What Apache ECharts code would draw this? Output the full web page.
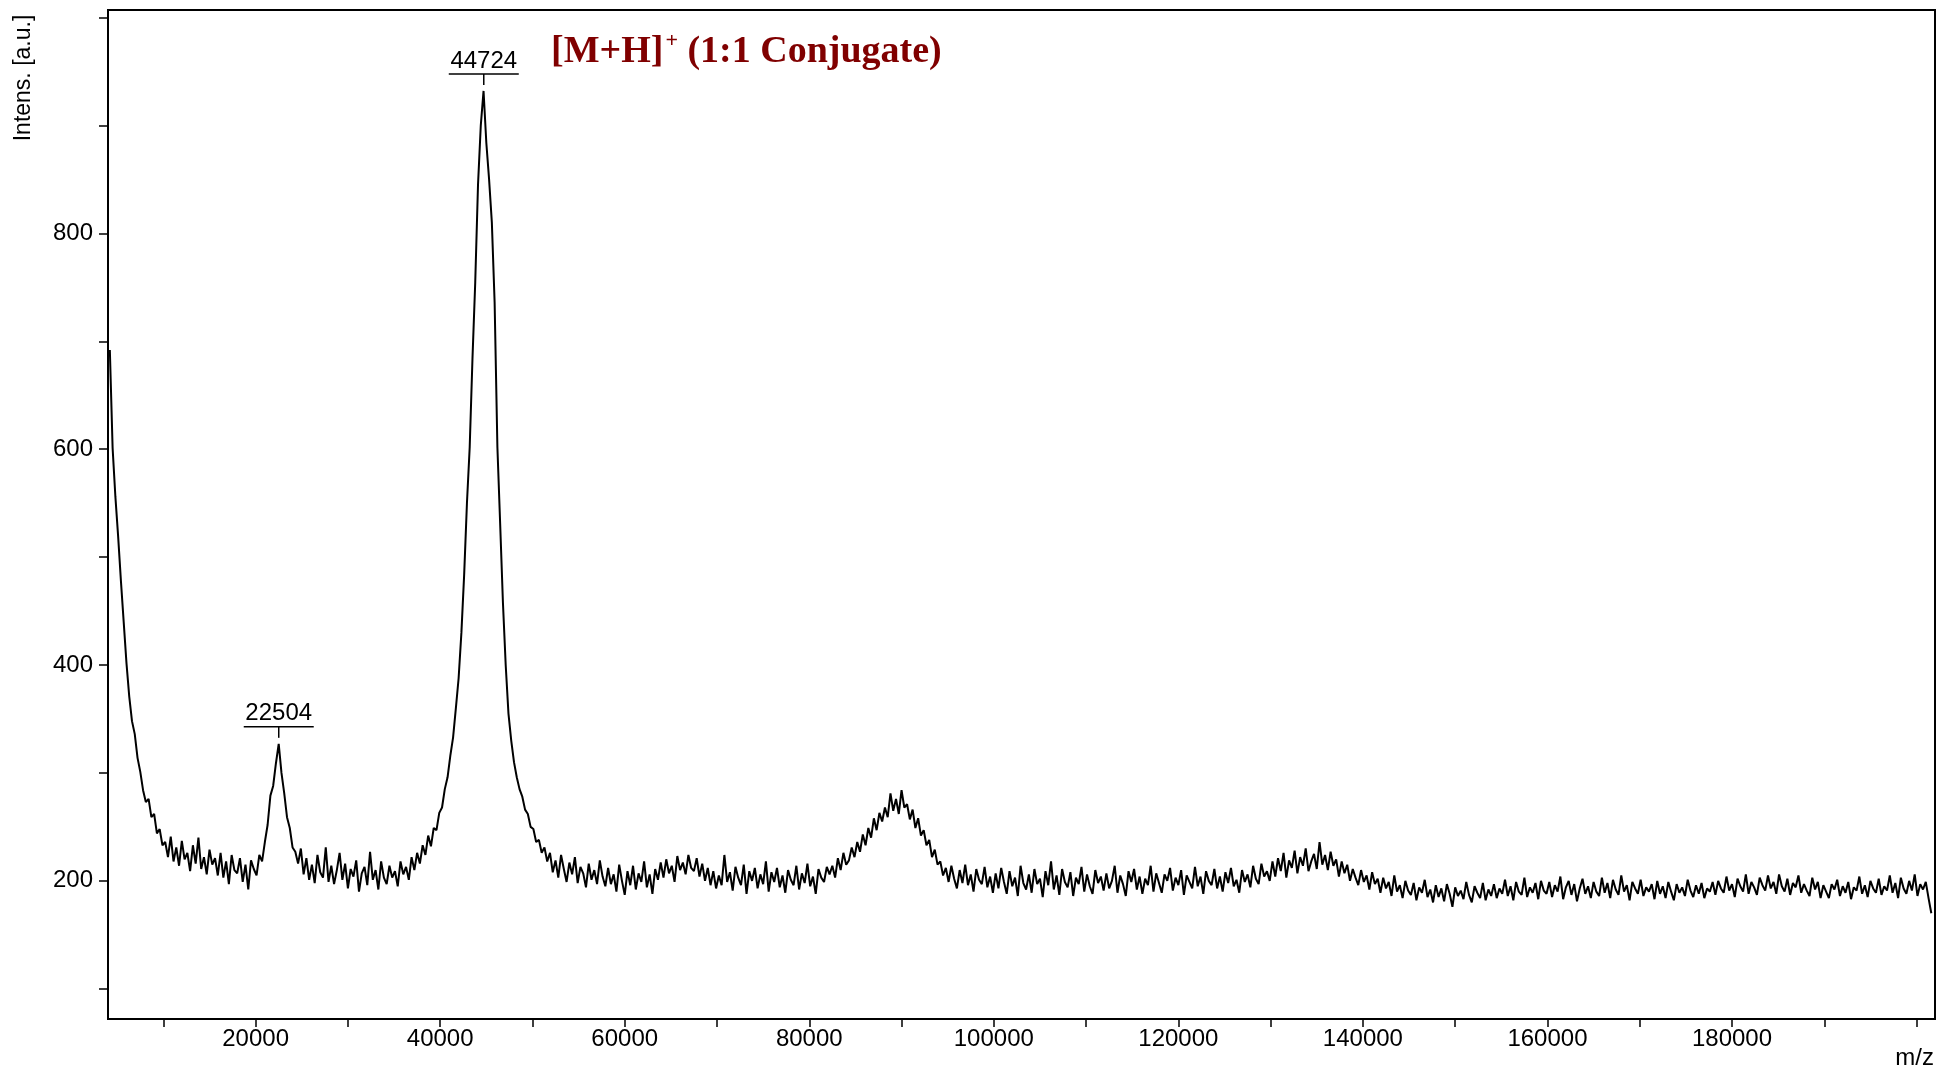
<!DOCTYPE html>
<html>
<head>
<meta charset="utf-8">
<script src="https://cdn.jsdelivr.net/npm/echarts@6/dist/echarts.min.js"></script>
<style>
html,body{margin:0;padding:0;background:#fff;}
#chart{width:1940px;height:1073px;}
</style>
</head>
<body>
<div id="chart"></div>
<script>
// ---- data ----
const mzStart = 4200;   // m/z of first sample
const mzStep = 300;     // sampling step in m/z
const intensity = [
692,601,556,519,478,440,402,371,348,336,314,301,284,273,276,259,262,244,248,233,
236,222,241,218,231,214,237,220,226,209,233,216,240,211,222,206,229,215,221,205,
226,203,218,197,224,210,207,221,199,215,192,219,211,205,224,218,236,252,279,288,
309,327,300,281,259,249,231,227,216,230,206,221,201,215,198,224,208,203,231,199,
214,197,210,226,201,216,193,211,204,219,190,207,213,196,227,201,210,192,218,203,
197,214,203,209,195,218,206,213,201,222,210,226,216,233,224,242,232,249,247,263,
268,285,296,316,333,360,388,430,484,550,602,684,755,845,900,932,884,850,810,736,
602,531,458,400,355,330,310,296,285,278,266,262,250,248,236,238,226,231,218,226,
208,219,203,224,211,199,217,206,222,198,213,207,194,216,201,210,197,219,204,195,
212,197,206,190,215,200,187,209,196,214,192,207,199,218,194,206,188,211,201,217,
203,220,207,214,199,223,210,217,206,224,212,209,221,204,216,200,212,196,209,193,
205,196,224,199,208,191,213,203,196,215,188,209,200,212,193,206,197,218,190,208,
199,212,194,205,189,210,201,196,214,192,207,198,216,195,204,188,211,203,199,213,
206,214,203,221,210,226,215,219,231,222,236,227,243,233,249,240,258,247,263,255,
268,259,281,265,276,262,284,268,271,257,266,249,258,242,247,233,238,222,229,215,
218,205,212,199,214,202,193,210,198,215,196,206,190,211,201,197,213,194,204,189,
207,193,212,199,188,209,195,203,186,214,198,192,206,189,211,197,202,185,209,196,
218,192,205,187,211,199,194,208,186,203,197,213,190,206,195,188,210,198,204,191,
207,193,200,214,189,205,197,186,209,199,211,192,204,188,202,196,214,190,207,198,
189,206,200,212,191,203,196,210,187,205,199,193,213,195,204,188,209,200,196,211,
193,204,190,208,198,212,195,201,189,210,199,206,194,214,202,197,216,204,209,200,
218,204,221,209,226,203,219,212,228,207,222,214,230,209,218,225,211,236,215,224,
210,227,214,220,204,218,207,215,200,211,203,196,210,199,205,192,208,197,202,189,
203,193,199,186,205,190,196,184,200,191,187,198,182,194,189,201,185,192,180,196,
185,193,181,197,188,176,194,186,191,183,199,187,180,195,189,184,198,182,192,186,
197,184,193,188,201,186,195,182,199,190,187,203,185,194,189,198,183,200,191,188,
199,185,196,190,204,183,194,200,187,197,181,193,202,188,195,184,199,190,186,203,
189,198,184,201,192,187,205,190,196,182,199,193,188,201,186,194,190,197,183,200,
188,195,184,199,190,182,197,189,194,186,201,191,185,196,188,198,184,193,190,199,
187,200,193,189,204,191,197,185,202,195,190,206,188,199,194,187,203,196,191,205,
193,199,188,206,195,190,202,187,198,194,205,189,197,191,186,203,192,199,184,196,
190,184,197,192,201,186,195,189,199,183,194,191,204,188,196,185,200,193,189,202,
187,195,191,205,189,198,184,203,193,188,200,191,206,186,197,192,199,184,170
];
const peakMz = [22504, 44724];
const peakTop = [327, 932];
const peakText = ['22504', '44724'];
const xTickValues = [10000,20000,30000,40000,50000,60000,70000,80000,90000,100000,110000,120000,130000,140000,150000,160000,170000,180000,190000,200000];
const xLabelValues = [20000,40000,60000,80000,100000,120000,140000,160000,180000];
const yTickValues = [100,200,300,400,500,600,700,800,900,1000];
const yLabelValues = [200,400,600,800];

// ---- build series ----
const spectrum = intensity.map((v, i) => [mzStart + i * mzStep, v]);
const peaks = peakMz.map((m, i) => [m, peakTop[i], peakText[i]]);

const FONT = '"Liberation Sans", Arial, sans-serif';
const SERIF = '"Liberation Serif", "Times New Roman", serif';
const chart = echarts.init(document.getElementById('chart'), null, {renderer: 'canvas'});
chart.setOption({
  animation: false,
  backgroundColor: '#fff',
  grid: {left: 108, right: 5, top: 10, bottom: 54, show: true, borderColor: '#000', borderWidth: 2, backgroundColor: 'transparent'},
  xAxis: {
    type: 'value', min: 4000, max: 202000,
    splitLine: {show: false},
    axisLine: {show: true, lineStyle: {color: '#000', width: 2}},
    axisTick: {show: true, inside: false, length: 8, lineStyle: {color: '#000', width: 1.5}, customValues: xTickValues},
    axisLabel: {show: true, color: '#000', fontSize: 24, fontFamily: FONT, margin: 8, customValues: xLabelValues,
      formatter: function (v) { return String(v); }}
  },
  yAxis: {
    type: 'value', min: 72, max: 1007,
    splitLine: {show: false},
    axisLine: {show: true, lineStyle: {color: '#000', width: 2}},
    axisTick: {show: true, inside: false, length: 9, lineStyle: {color: '#000', width: 1.5}, customValues: yTickValues},
    axisLabel: {show: true, color: '#000', fontSize: 24, fontFamily: FONT, margin: 15, customValues: yLabelValues,
      formatter: function (v) { return String(v); }}
  },
  graphic: [
    {type: 'text', x: 24, y: 78, rotation: Math.PI / 2,
     style: {text: 'Intens. [a.u.]', fill: '#000', font: '23px ' + FONT, align: 'center', verticalAlign: 'middle'}},
    {type: 'text', right: 6, top: 1046,
     style: {text: 'm/z', fill: '#000', font: '24px ' + FONT}},
    {type: 'text', x: 551, y: 52,
     style: {
       text: '{b|[M+H]}{s|+}{b| (1:1 Conjugate)}',
       verticalAlign: 'middle',
       rich: {
         b: {fontFamily: SERIF, fontWeight: 'bold', fontSize: 38, fill: '#800000', color: '#800000', lineHeight: 44},
         s: {fontFamily: SERIF, fontWeight: 'bold', fontSize: 22, fill: '#800000', color: '#800000', verticalAlign: 'top', lineHeight: 44, padding: [0, 0, 0, 2]}
       }
     }}
  ],
  series: [
    {
      type: 'line', data: spectrum, showSymbol: false, symbol: 'none', sampling: null,
      lineStyle: {color: '#000', width: 2}, z: 3
    },
    {
      type: 'custom', data: peaks, z: 4,
      renderItem: function (params, api) {
        const p = api.coord([api.value(0), api.value(1)]);
        const x = p[0], y = p[1];
        return {
          type: 'group',
          children: [
            {type: 'text', style: {text: peakText[params.dataIndex], x: x, y: y - 30, fill: '#000', font: '24px ' + FONT, align: 'center', verticalAlign: 'middle'}},
            {type: 'line', shape: {x1: x - 35, y1: y - 17, x2: x + 35, y2: y - 17}, style: {stroke: '#000', lineWidth: 1.5}},
            {type: 'line', shape: {x1: x, y1: y - 17, x2: x, y2: y - 6}, style: {stroke: '#000', lineWidth: 1.5}}
          ]
        };
      }
    }
  ]
});
</script>
</body>
</html>
